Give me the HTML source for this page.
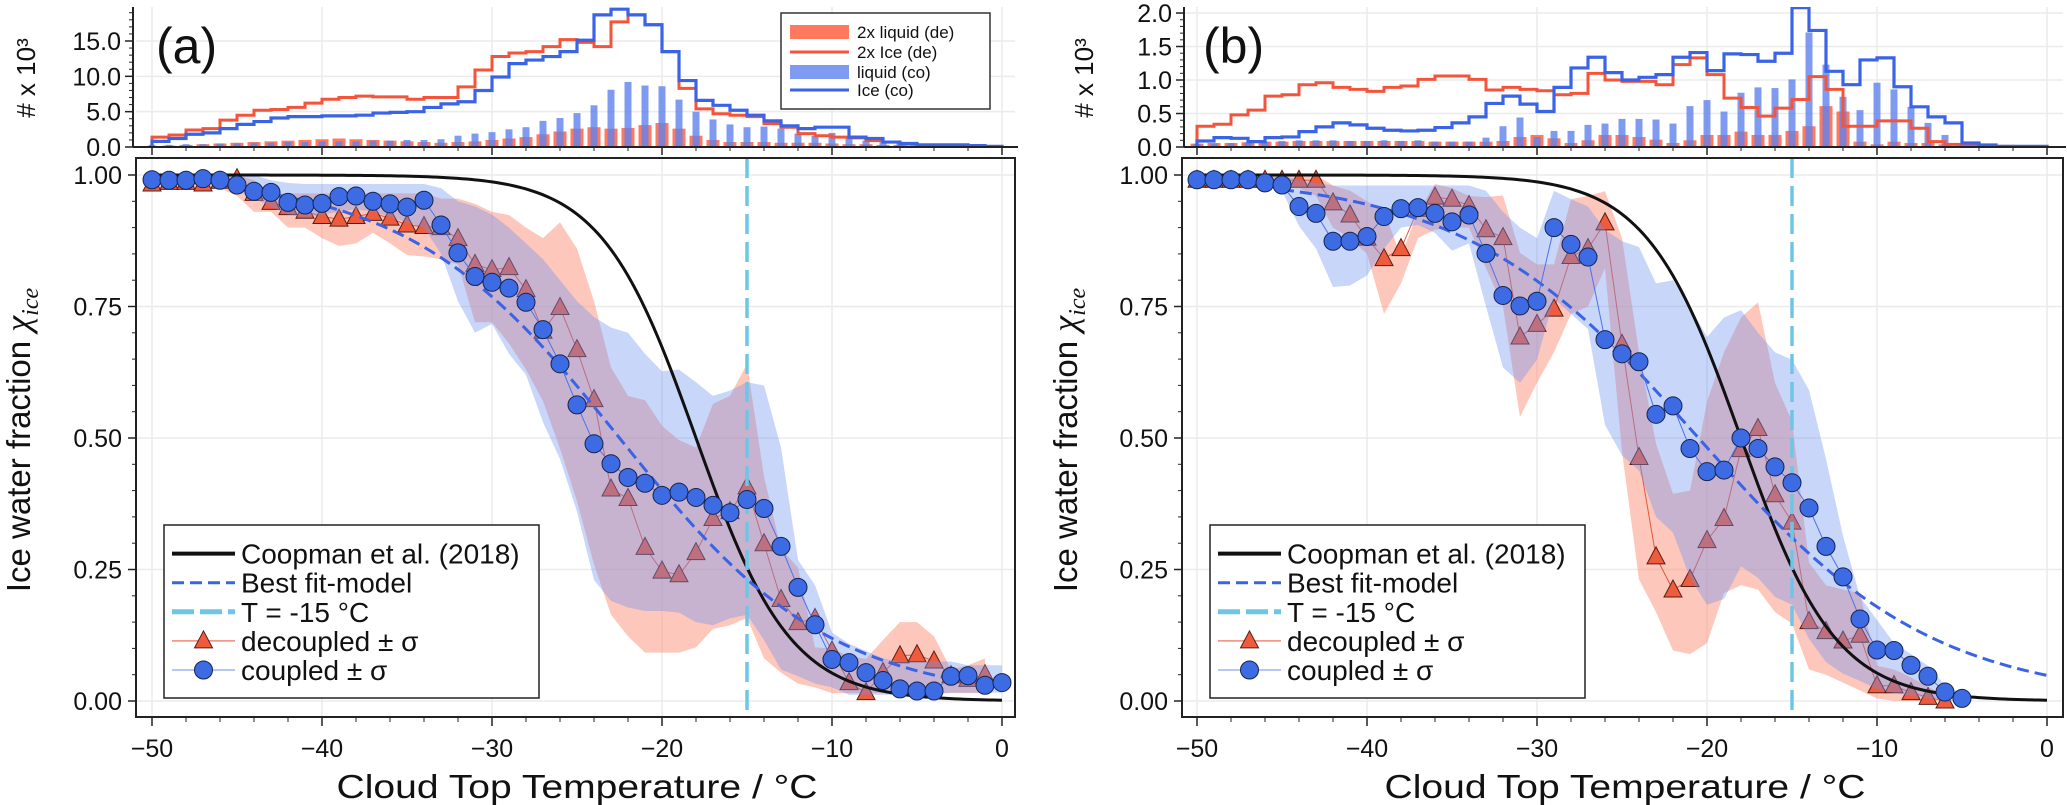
<!DOCTYPE html>
<html><head><meta charset="utf-8">
<style>
html,body{margin:0;padding:0;background:#fff;}
svg{display:block;font-family:"Liberation Sans","DejaVu Sans",sans-serif;}
</style></head>
<body>
<svg id="fig" width="2067" height="805" viewBox="0 0 2067 805" xmlns="http://www.w3.org/2000/svg">
<rect width="2067" height="805" fill="#fff"/>
</svg>
<script>
// ---------- data: temperatures ----------
const tempsFull = [];
for (let t = -50; t <= 0; t++) tempsFull.push(t);
const xTicks = [-50, -40, -30, -20, -10, 0];
const xTickLabels = ["\u221250", "\u221240", "\u221230", "\u221220", "\u221210", "0"];
const yTicks = [0, 0.25, 0.5, 0.75, 1.0];
const yTickLabels = ["0.00", "0.25", "0.50", "0.75", "1.00"];
const histTicksA = [0, 5, 10, 15];
const histTickLabelsA = ["0.0", "5.0", "10.0", "15.0"];
const histTicksB = [0, 0.5, 1.0, 1.5, 2.0];
const histTickLabelsB = ["0.0", "0.5", "1.0", "1.5", "2.0"];
const refTemp = -15;
const coopmanT0 = -18; const coopmanK = 0.36;
const fitA_T0 = -22.5; const fitA_K = 0.16;
const fitB_T0 = -20.5; const fitB_K = 0.145;

// ---------- panel (a) ----------
const aCoupled = [.991,.99,.99,.993,.99,.981,.969,.967,.948,.943,.946,.959,.96,.95,.945,.939,.952,.905,.852,.807,.796,.785,.758,.706,.641,.563,.489,.451,.425,.414,.391,.397,.387,.372,.358,.383,.366,.294,.216,.145,.079,.073,.054,.039,.023,.019,.019,.047,.048,.03,.035];
const aCoupledLo = [.985,.985,.985,.985,.985,.97,.955,.94,.925,.92,.925,.93,.935,.93,.92,.91,.9,.85,.76,.70,.717,.66,.62,.53,.46,.36,.23,.19,.178,.171,.171,.168,.15,.144,.157,.164,.116,.06,.047,.033,.026,.012,.012,.012,.012,.012,.012,.016,.016,.016,.016];
const aCoupledHi = [1,1,1,1,1,1,1,.99,.985,.983,.983,.983,.983,.983,.983,.983,.983,.975,.95,.94,.925,.9,.87,.84,.8,.76,.73,.71,.70,.66,.627,.63,.606,.58,.59,.606,.6,.482,.268,.22,.13,.109,.095,.081,.075,.075,.075,.075,.068,.068,.068];
const aDecoupled = [.983,.986,.986,.983,.988,.993,.965,.948,.938,.931,.921,.916,.921,.927,.918,.905,.902,.9,.879,.83,.82,.824,.782,.703,.748,.668,.573,.403,.385,.292,.247,.24,.282,.347,.36,.407,.299,.193,.149,.157,.095,.035,.016,.054,.086,.088,.076,.048,.041,.05];
const aDecoupledHi = [1,1,1,1,1,1,.99,.965,.965,.965,.965,.965,.965,.965,.965,.965,.965,.955,.955,.945,.93,.924,.9,.88,.91,.86,.76,.634,.58,.572,.523,.496,.482,.565,.58,.641,.427,.289,.254,.102,.1,.085,.08,.116,.15,.15,.123,.06,.068,.081];
const aDecoupledLo = [.975,.975,.975,.975,.975,.96,.93,.93,.9,.9,.88,.865,.87,.89,.87,.848,.845,.84,.83,.72,.72,.68,.63,.57,.48,.38,.26,.164,.123,.092,.092,.092,.102,.137,.144,.158,.081,.054,.033,.026,.015,.015,.015,.015,.015,.015,.015,.015,.015,.015];
const aIceDe = [1.4,1.7,2.4,2.6,3.8,4.5,5.2,5.3,5.6,6.2,6.75,7.0,7.2,7.1,7.1,6.75,7.0,7.0,8.5,10.9,12.8,13.3,13.5,14.2,15.2,14.8,14.2,17.7,18.7,17.3,13.5,8.3,5.4,4.7,4.5,4.3,3.3,2.8,1.9,1.6,1.4,1.3,.9,.7,.4,.2,.15,.1,.05,.02];
const aIceCo = [0.8,1.2,1.8,2.0,2.6,3.2,3.6,4.1,4.3,4.3,4.4,4.4,4.5,4.8,4.9,5.0,5.6,6.1,6.4,8.0,9.9,11.8,12.3,12.8,13.5,15.1,18.7,19.5,18.7,17.3,13.5,9.4,6.6,5.9,5.2,4.5,3.7,3.0,2.6,2.8,2.8,1.4,1.2,.7,.5,.3,.3,.3,.2,.1];
const aLiqCo = [.3,.3,.4,.4,.5,.5,.6,.6,.7,.7,.8,.8,.8,.9,.9,1.0,1.0,1.1,1.6,1.9,2.1,2.5,2.8,3.7,4.1,4.8,5.9,8.1,9.2,8.7,8.6,6.7,5.0,3.9,3.2,2.8,2.9,2.6,1.9,1.6,2.0,1.5,.9,.7,.5,.3,.3,.2,.1,.1,0];
const aLiqDe = [.1,.2,.3,.4,.5,.6,.7,.8,.9,1.0,1.1,1.2,1.1,1.0,.9,.8,.7,.6,.7,.8,1.0,1.2,1.4,1.8,2.2,2.6,2.8,2.6,2.7,3.1,3.4,2.6,1.6,1.0,.7,.7,.7,.6,.6,.6,.5,.4,.4,.3,.3,.2,.2,.2,.1,.1,0];

// ---------- panel (b) ----------
const bCoupled = [.991,.991,.991,.991,.985,.981,.94,.927,.874,.874,.883,.921,.936,.938,.927,.911,.924,.851,.771,.751,.76,.9,.868,.844,.687,.66,.645,.545,.561,.48,.436,.439,.5,.48,.445,.415,.367,.294,.236,.156,.097,.096,.068,.047,.017,.005];
const bCoupledHi = [1,1,1,1,1,1,.99,.985,.98,.98,.98,.98,.98,.98,.98,.98,.98,.97,.93,.9,.88,.97,.954,.94,.896,.874,.863,.794,.8,.75,.692,.729,.743,.7,.663,.649,.591,.46,.314,.198,.154,.11,.089,.067,.03,.015];
const bCoupledLo = [.98,.98,.98,.98,.98,.97,.903,.86,.787,.79,.809,.86,.9,.905,.89,.856,.87,.75,.634,.605,.649,.765,.736,.707,.525,.467,.438,.35,.32,.234,.183,.194,.256,.234,.198,.183,.118,.074,.052,.038,.023,.015,.01,.005,0,0];
const bDecoupled = [.99,.99,.99,.99,.99,.99,.99,.99,.947,.924,.88,.841,.86,.935,.958,.954,.942,.896,.881,.692,.716,.745,.845,.86,.909,.678,.463,.274,.211,.231,.305,.347,.478,.518,.392,.34,.151,.132,.114,.125,.029,.029,.016,.007,0];
const bDecoupledHi = [1,1,1,1,1,1,1,1,.98,.97,.95,.932,.845,.93,.983,.975,.96,.958,.961,.852,.83,.83,.954,.96,.969,.88,.663,.489,.394,.4,.569,.663,.729,.758,.605,.532,.263,.22,.212,.205,.067,.06,.045,.027,.01];
const bDecoupledLo = [.975,.975,.975,.975,.975,.975,.975,.96,.9,.88,.85,.736,.794,.88,.896,.9,.9,.823,.75,.54,.605,.663,.736,.75,.823,.474,.231,.169,.096,.089,.11,.205,.22,.212,.169,.147,.06,.05,.035,.02,.005,0,0,0,0];
const bIceDe = [.31,.34,.48,.55,.76,.78,.93,.96,.89,.86,.83,.89,.91,1.01,1.06,1.06,1.01,.85,.89,.86,.84,.78,.80,1.10,1.0,.98,.98,.93,1.23,1.33,1.08,.73,.59,.46,.58,.71,1.05,.86,.31,.31,.39,.39,.28,.08,.04,.02,.01,.01,0,0];
const bIceCo = [.09,.14,.13,.08,.14,.15,.23,.30,.36,.33,.28,.25,.24,.25,.29,.36,.45,.65,.76,.64,.53,.89,1.18,1.34,1.11,1.0,1.04,1.08,1.34,1.41,1.14,1.39,1.38,1.28,1.4,2.08,1.74,1.13,.93,1.3,1.33,.9,.6,.45,.36,.06,.03,.01,.01,.01];
const bLiqCo = [.05,.05,.06,.07,.08,.09,.1,.1,.1,.09,.09,.1,.09,.1,.08,.08,.08,.14,.31,.44,.15,.24,.24,.33,.35,.42,.42,.41,.35,.61,.7,.53,.81,.89,.88,1.01,1.71,1.23,.75,.55,.96,.86,.6,.36,.18,.04,.01,.01,0,0,0];
const bLiqDe = [.05,.06,.06,.07,.08,.08,.09,.09,.09,.09,.09,.09,.09,.09,.08,.08,.08,.08,.09,.15,.18,.13,.06,.1,.18,.18,.15,.11,.06,.1,.18,.18,.23,.18,.18,.24,.31,.61,.53,.08,.04,.08,.06,.06,.04,.02,.02,.01,0,0,0];

// ---------- rendering ----------
const NS = "http://www.w3.org/2000/svg";
const svg = document.getElementById("fig");
function mk(tag, attrs, parent) {
  const e = document.createElementNS(NS, tag);
  for (const k in attrs) e.setAttribute(k, attrs[k]);
  (parent || svg).appendChild(e);
  return e;
}
const RED = "#f4553a", BLUE = "#3b63e6";

function drawPanel(P) {
  const g = mk("g", {});
  
  
  const xs = t => P.x0 + (t + 50) * 17.0;
  const ys = v => 701 - v * 526;
  const hy = v => 147 - v * (140 / P.hmax);
  const FL = P.frameL, FR = P.frameR;

  // ----- histogram axes -----
  const hg = mk("g", {}, g);
  
  
  const clipId = "hclip" + P.id;
  const cp = mk("clipPath", {id: clipId}, hg);
  mk("rect", {x: FL - 2, y: 7, width: FR - FL + 4, height: 141}, cp);
  // grid
  P.hTicks.forEach(v => mk("line", {x1: FL, x2: FR, y1: hy(v), y2: hy(v), stroke: "#ebebeb", "stroke-width": 1.5}, hg));
  xTicks.forEach(t => mk("line", {x1: xs(t), x2: xs(t), y1: 7, y2: 147, stroke: "#ebebeb", "stroke-width": 1.5}, hg));
  const inner = mk("g", {"clip-path": "url(#" + clipId + ")"}, hg);
  // red bars (2x liquid de)
  P.liqDe.forEach((v, i) => {
    const t = tempsFull[i];
    const b = mk("rect", {x: xs(t) - 6.5, y: hy(v), width: 13, height: 147 - hy(v), fill: "#ff6a4d", opacity: 0.9}, inner);
    
    
  });
  P.liqCo.forEach((v, i) => {
    const t = tempsFull[i];
    const b = mk("rect", {x: xs(t) - 3.5, y: hy(v), width: 7, height: 147 - hy(v), fill: "#5f82ee", opacity: 0.8}, inner);
    
    
  });
  function stepPath(arr) {
    let d = "M" + xs(-50) + "," + hy(0);
    arr.forEach((v, i) => {
      const t = tempsFull[i];
      d += " L" + xs(t) + "," + hy(v) + " L" + xs(t + 1) + "," + hy(v);
    });
    d += " L" + xs(arr.length - 50) + "," + hy(0);
    return d;
  }
  const sr = mk("path", {d: stepPath(P.iceDe), fill: "none", stroke: RED, "stroke-width": 3}, inner);
  
  
  const sb = mk("path", {d: stepPath(P.iceCo), fill: "none", stroke: BLUE, "stroke-width": 3.2}, inner);
  
  
  // spines
  mk("line", {x1: P.hSpine, x2: P.hSpine, y1: 7, y2: 147, stroke: "#222", "stroke-width": 2}, hg);
  mk("line", {x1: P.hSpine, x2: FR + 3, y1: 147, y2: 147, stroke: "#222", "stroke-width": 2}, hg);
  // hist y ticks
  for (let v = 0; v <= P.hmax + 1e-9; v += P.hMinor) mk("line", {x1: P.hSpine - 4, x2: P.hSpine, y1: hy(v), y2: hy(v), stroke: "#222", "stroke-width": 1}, hg);
  P.hTicks.forEach((v, i) => {
    mk("line", {x1: P.hSpine - 8, x2: P.hSpine, y1: hy(v), y2: hy(v), stroke: "#222", "stroke-width": 1.5}, hg);
    const tx = mk("text", {x: P.hSpine - 12, y: hy(v) + 9, "text-anchor": "end", "font-size": 25, fill: "#111"}, hg);
    tx.textContent = P.hTickLabels[i];
    
    
  });
  for (let t = -50; t <= 0; t += 2) {
    const major = (t % 10 === 0);
    mk("line", {x1: xs(t), x2: xs(t), y1: 147, y2: 147 + (major ? 8 : 4), stroke: "#222", "stroke-width": major ? 1.5 : 1}, hg);
  }
  const hl = mk("text", {x: 0, y: 0, "text-anchor": "middle", "font-size": 26, fill: "#111", transform: "translate(" + P.hLabelX + ",78) rotate(-90)"}, hg);
  hl.textContent = "# x 10\u00b3";
  
  
  const pl = mk("text", {x: P.letterX, y: 63, "font-size": 50, fill: "#111"}, hg);
  pl.textContent = "(" + P.id + ")";
  
  

  // ----- main axes -----
  const mg = mk("g", {}, g);
  
  
  const mclip = "mclip" + P.id;
  const cp2 = mk("clipPath", {id: mclip}, mg);
  mk("rect", {x: FL, y: 158, width: FR - FL, height: 559}, cp2);
  yTicks.forEach(v => mk("line", {x1: FL, x2: FR, y1: ys(v), y2: ys(v), stroke: "#ebebeb", "stroke-width": 1.5}, mg));
  xTicks.forEach(t => mk("line", {x1: xs(t), x2: xs(t), y1: 158, y2: 717, stroke: "#ebebeb", "stroke-width": 1.5}, mg));
  const pg = mk("g", {"clip-path": "url(#" + mclip + ")"}, mg);
  function bandPath(lo, hi) {
    let d = "";
    hi.forEach((v, i) => { d += (i ? " L" : "M") + xs(tempsFull[i]) + "," + ys(v); });
    for (let i = lo.length - 1; i >= 0; i--) d += " L" + xs(tempsFull[i]) + "," + ys(lo[i]);
    return d + " Z";
  }
  function linePath(arr) {
    let d = "";
    arr.forEach((v, i) => { d += (i ? " L" : "M") + xs(tempsFull[i]) + "," + ys(v); });
    return d;
  }
  const rb = mk("path", {d: bandPath(P.deLo, P.deHi), fill: "#fb8f78", opacity: 0.5}, pg);
  
  
  mk("path", {d: linePath(P.de), fill: "none", stroke: "#e8563e", "stroke-width": 1}, pg);
  P.de.forEach((v, i) => {
    const cx = xs(tempsFull[i]), cy = ys(v);
    const tri = mk("polygon", {points: (cx) + "," + (cy - 10) + " " + (cx - 9) + "," + (cy + 7) + " " + (cx + 9) + "," + (cy + 7), fill: "#ef5b3d", stroke: "#5a1e14", "stroke-width": 1}, pg);
    
    
  });
  const bb = mk("path", {d: bandPath(P.coLo, P.coHi), fill: "#6f93ee", opacity: 0.38}, pg);
  
  
  // coopman
  let dc = "", df = "";
  for (let t = -50; t <= 0.001; t += 0.25) {
    dc += (t === -50 ? "M" : " L") + xs(t) + "," + ys(1 / (1 + Math.exp(coopmanK * (t - coopmanT0))));
  }
  for (let t = -45; t <= 0.001; t += 0.25) {
    df += (t === -45 ? "M" : " L") + xs(t) + "," + ys(1 / (1 + Math.exp(P.fitK * (t - P.fitT0))));
  }
  const cc = mk("path", {d: dc, fill: "none", stroke: "#111", "stroke-width": 3}, pg);
  
  
  const fc = mk("path", {d: df, fill: "none", stroke: BLUE, "stroke-width": 3, "stroke-dasharray": "12,6"}, pg);
  
  
  const vl = mk("line", {x1: xs(refTemp), x2: xs(refTemp), y1: 158, y2: 717, stroke: "#6ec6e6", "stroke-width": 3.5, "stroke-dasharray": "20,8"}, pg);
  
  
  mk("path", {d: linePath(P.co), fill: "none", stroke: "#4a72ea", "stroke-width": 1}, pg);
  P.co.forEach((v, i) => {
    const c = mk("circle", {cx: xs(tempsFull[i]), cy: ys(v), r: 9, fill: "#3d6be3", stroke: "#16244f", "stroke-width": 1}, pg);
    
    
  });
  // frame
  mk("rect", {x: FL, y: 158, width: FR - FL, height: 559, fill: "none", stroke: "#222", "stroke-width": 2}, mg);
  for (let k = 0; k <= 20; k++) {
    const v = k * 0.05;
    mk("line", {x1: FL - 4, x2: FL, y1: ys(v), y2: ys(v), stroke: "#222", "stroke-width": 1}, mg);
  }
  yTicks.forEach((v, i) => {
    mk("line", {x1: FL - 8, x2: FL, y1: ys(v), y2: ys(v), stroke: "#222", "stroke-width": 1.5}, mg);
    const tx = mk("text", {x: FL - 14, y: ys(v) + 9, "text-anchor": "end", "font-size": 25, fill: "#111"}, mg);
    tx.textContent = yTickLabels[i];
    
    
  });
  for (let t = -50; t <= 0; t += 2) {
    const major = (t % 10 === 0);
    mk("line", {x1: xs(t), x2: xs(t), y1: 717, y2: 717 + (major ? 9 : 5), stroke: "#222", "stroke-width": major ? 1.5 : 1}, mg);
  }
  xTicks.forEach((t, i) => {
    const tx = mk("text", {x: xs(t), y: 757, "text-anchor": "middle", "font-size": 25, fill: "#111"}, mg);
    tx.textContent = xTickLabels[i];
    
    
  });
  const xl = mk("text", {x: P.xLabelX, y: 798, "text-anchor": "middle", "font-size": 33, fill: "#111", textLength: 481, lengthAdjust: "spacingAndGlyphs"}, mg);
  xl.textContent = "Cloud Top Temperature / \u00b0C";
  
  
  const yl = mk("text", {x: 0, y: 0, "text-anchor": "middle", "font-size": 33, fill: "#111", transform: "translate(" + P.yLabelX + ",440) rotate(-90)"}, mg);
  
  
  yl.appendChild(document.createTextNode("Ice water fraction "));
  const chi = mk("tspan", {"font-family": "Liberation Serif, serif", "font-style": "italic", "font-size": 36}, yl);
  chi.textContent = "\u03c7";
  const sub = mk("tspan", {"font-family": "Liberation Serif, serif", "font-style": "italic", "font-size": 24, dy: 8}, yl);
  sub.textContent = "ice";

  // legend main
  const lx = FL + 28, lyTop = 525;
  const lg = mk("g", {}, mg);
  
  
  mk("rect", {x: lx, y: lyTop, width: 375, height: 173, fill: "#fff", stroke: "#222", "stroke-width": 1.5}, lg);
  const entries = ["Coopman et al. (2018)", "Best fit-model", "T = -15 \u00b0C", "decoupled \u00b1 \u03c3", "coupled \u00b1 \u03c3"];
  entries.forEach((s, i) => {
    const yy = 553.6 + i * 29.1;
    const e = mk("g", {}, lg);
    
    
    const x1 = lx + 8, x2 = lx + 71;
    if (i === 0) mk("line", {x1, x2, y1: yy, y2: yy, stroke: "#111", "stroke-width": 4}, e);
    if (i === 1) mk("line", {x1, x2, y1: yy, y2: yy, stroke: BLUE, "stroke-width": 3, "stroke-dasharray": "12,6"}, e);
    if (i === 2) mk("line", {x1, x2, y1: yy, y2: yy, stroke: "#6ec6e6", "stroke-width": 5, "stroke-dasharray": "22,6"}, e);
    if (i === 3) {
      mk("line", {x1, x2, y1: yy, y2: yy, stroke: "#f08a78", "stroke-width": 1.5}, e);
      const cx = (x1 + x2) / 2;
      mk("polygon", {points: cx + "," + (yy - 10) + " " + (cx - 9) + "," + (yy + 7) + " " + (cx + 9) + "," + (yy + 7), fill: "#ef5b3d", stroke: "#5a1e14", "stroke-width": 1}, e);
    }
    if (i === 4) {
      mk("line", {x1, x2, y1: yy, y2: yy, stroke: "#9fb4f0", "stroke-width": 1.5}, e);
      mk("circle", {cx: (x1 + x2) / 2, cy: yy, r: 9, fill: "#3d6be3", stroke: "#16244f", "stroke-width": 1}, e);
    }
    const t = mk("text", {x: lx + 77, y: yy + 10, "font-size": 28, fill: "#111"}, e);
    t.textContent = s;
  });
}

drawPanel({id: "a", x0: 152, frameL: 136, frameR: 1015, hSpine: 133, hmax: 19.81, hMinor: 1,
  hTicks: histTicksA, hTickLabels: histTickLabelsA, hLabelX: 35, letterX: 156, xLabelX: 577, yLabelX: 30,
  co: aCoupled, coLo: aCoupledLo, coHi: aCoupledHi, de: aDecoupled, deLo: aDecoupledLo, deHi: aDecoupledHi,
  iceDe: aIceDe, iceCo: aIceCo, liqCo: aLiqCo, liqDe: aLiqDe, fitT0: fitA_T0, fitK: fitA_K});
drawPanel({id: "b", x0: 1197, frameL: 1182, frameR: 2063, hSpine: 1184, hmax: 2.09, hMinor: 0.1,
  hTicks: histTicksB, hTickLabels: histTickLabelsB, hLabelX: 1093, letterX: 1203, xLabelX: 1625, yLabelX: 1077,
  co: bCoupled, coLo: bCoupledLo, coHi: bCoupledHi, de: bDecoupled, deLo: bDecoupledLo, deHi: bDecoupledHi,
  iceDe: bIceDe, iceCo: bIceCo, liqCo: bLiqCo, liqDe: bLiqDe, fitT0: fitB_T0, fitK: fitB_K});

// histogram legend (panel a)
const hlg = mk("g", {});


mk("rect", {x: 781, y: 13, width: 209, height: 96, fill: "#fff", stroke: "#333", "stroke-width": 1.5}, hlg);
const hEntries = ["2x  liquid (de)", "2x  Ice (de)", "liquid (co)", "Ice (co)"];
hEntries.forEach((s, i) => {
  const yy = [32, 52, 72, 90][i];
  const e = mk("g", {}, hlg);
  
  
  if (i === 0) mk("rect", {x: 790, y: yy - 7, width: 59, height: 14, fill: "#ff6a4d", opacity: 0.9}, e);
  if (i === 1) mk("line", {x1: 790, x2: 849, y1: yy, y2: yy, stroke: RED, "stroke-width": 3}, e);
  if (i === 2) mk("rect", {x: 790, y: yy - 7, width: 59, height: 14, fill: "#5f82ee", opacity: 0.8}, e);
  if (i === 3) mk("line", {x1: 790, x2: 849, y1: yy, y2: yy, stroke: BLUE, "stroke-width": 3}, e);
  const t = mk("text", {x: 857, y: yy + 6, "font-size": 17, fill: "#111"}, e);
  t.textContent = s;
});
</script>
</body></html>
